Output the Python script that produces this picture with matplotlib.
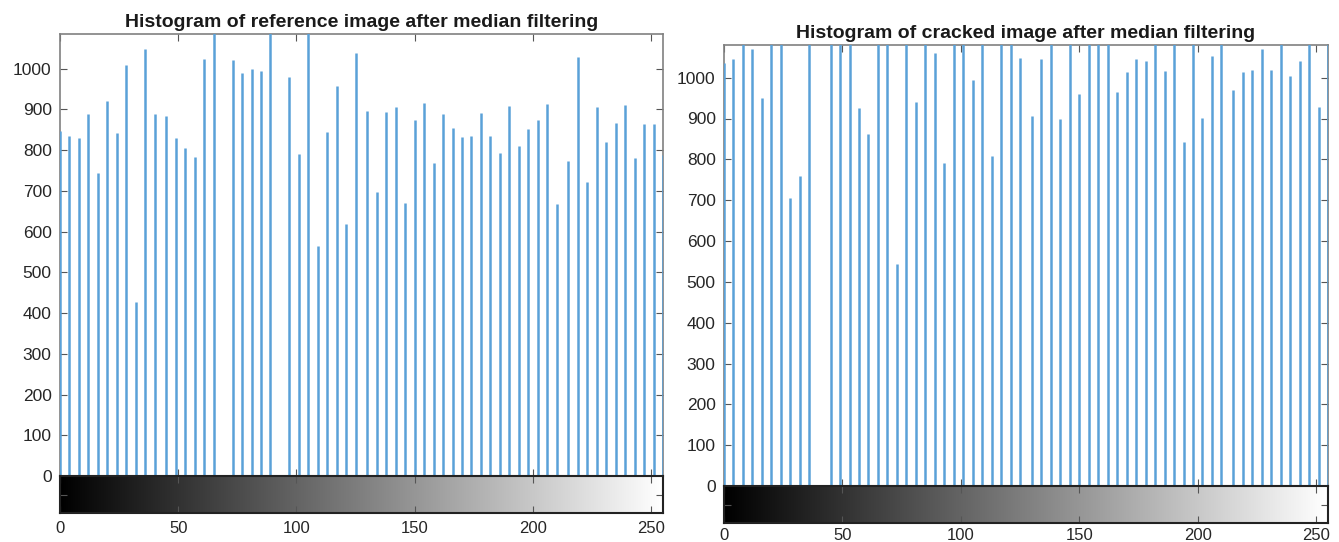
import numpy as np
import matplotlib
matplotlib.use("Agg")
import matplotlib.pyplot as plt

plt.rcParams['font.family'] = ['Liberation Sans', 'DejaVu Sans']

# gray levels and counts (values above the axis top are clipped in the picture)
ref_levels = [0, 4, 8, 12, 16, 20, 24, 28, 32, 36, 40, 45, 49, 53, 57, 61, 65,
              73, 77, 81, 85, 89, 97, 101, 105, 109, 113, 117, 121, 125, 130,
              134, 138, 142, 146, 150, 154, 158, 162, 166, 170, 174, 178, 182,
              186, 190, 194, 198, 202, 206, 210, 215, 219, 223, 227, 231, 235,
              239, 243, 247, 251, 255]
ref_counts = [848, 834, 830, 889, 745, 920, 843, 1009, 428, 1049, 889, 884, 830,
              806, 783, 1023, 1150, 1021, 989, 1000, 994, 1150, 980, 790, 1150,
              564, 845, 957, 619, 1039, 896, 696, 894, 907, 669, 873, 916, 769,
              888, 854, 832, 835, 892, 834, 794, 909, 809, 853, 875, 913, 667,
              774, 1029, 721, 907, 819, 866, 911, 780, 863, 865, 787]

crk_levels = [0, 4, 8, 12, 16, 20, 24, 28, 32, 36, 45, 49, 53, 57, 61, 65, 69,
              73, 77, 81, 85, 89, 93, 97, 101, 105, 109, 113, 117, 121, 125,
              130, 134, 138, 142, 146, 150, 154, 158, 162, 166, 170, 174, 178,
              182, 186, 190, 194, 198, 202, 206, 210, 215, 219, 223, 227, 231,
              235, 239, 243, 247, 251, 255]
crk_counts = [1035, 1045, 1150, 1070, 950, 1150, 1150, 706, 759, 1150, 1150,
              1150, 1150, 926, 863, 1150, 1150, 543, 1150, 941, 1150, 1061, 792,
              1150, 1150, 994, 1150, 809, 1150, 1150, 1049, 906, 1046, 1150, 898,
              1150, 960, 1150, 1150, 1150, 966, 1013, 1046, 1041, 1150, 1016,
              1150, 842, 1150, 902, 1053, 1150, 969, 1013, 1019, 1070, 1018,
              1150, 1004, 1042, 1150, 928, 1150]

titles = ["Histogram of reference image after median filtering",
          "Histogram of cracked image after median filtering"]
y_ticks = list(range(0, 1001, 100))
x_ticks = [0, 50, 100, 150, 200, 250]

W, H = 1339, 542
fig = plt.figure(figsize=(W / 100, H / 100), dpi=100)

# pixel boxes: left, right, top, bottom of main axes, bottom of colorbar
boxes = [(60, 663, 34, 476, 513), (724, 1328, 45, 486, 523)]
ylims = [1085, 1080]
label_pads = [6, 3.5]
data = [(ref_levels, ref_counts), (crk_levels, crk_counts)]
txt = '#262626'
edge = '#555555'
gray = np.linspace(0, 1, 256).reshape(1, -1)

for (l, r, t, b, cb), ylim, lp, (lv, ct), title in zip(boxes, ylims, label_pads, data, titles):
    ax = fig.add_axes([l / W, 1 - b / H, (r - l) / W, (b - t) / H])
    ax.vlines(lv, 0, ct, colors='#5aa1d8', linewidth=1.8, zorder=3)
    ax.set_xlim(0, 255)
    ax.set_ylim(0, ylim)
    ax.set_yticks(y_ticks)
    ax.set_xticks(x_ticks)
    ax.tick_params(direction='in', top=True, right=True, labelbottom=False,
                   labelsize=12.5, colors=txt, length=5, pad=6)
    ax.tick_params(axis='y', colors=edge, labelcolor=txt)
    ax.tick_params(axis='x', colors=edge)
    for s in ax.spines.values():
        s.set_color('#808080')
        s.set_linewidth(1.2)
    ax.spines['bottom'].set_visible(False)
    ax.set_title(title, fontsize=14, fontweight='bold', color='#1a1a1a', pad=5)

    cax = fig.add_axes([l / W, 1 - cb / H, (r - l) / W, (cb - b) / H])
    cax.imshow(gray, cmap='gray', aspect='auto', extent=[0, 255, 0, 1],
               interpolation='bilinear')
    cax.set_xlim(0, 255)
    cax.set_ylim(0, 1)
    cax.set_xticks(x_ticks)
    cax.set_yticks([0.5])
    cax.set_yticklabels([])
    cax.tick_params(direction='in', top=True, right=True, labelsize=12,
                    colors=edge, labelcolor=txt, length=5, pad=lp)
    for s in cax.spines.values():
        s.set_color('#222222')
        s.set_linewidth(1.5)

fig.savefig("out.png", dpi=100)
